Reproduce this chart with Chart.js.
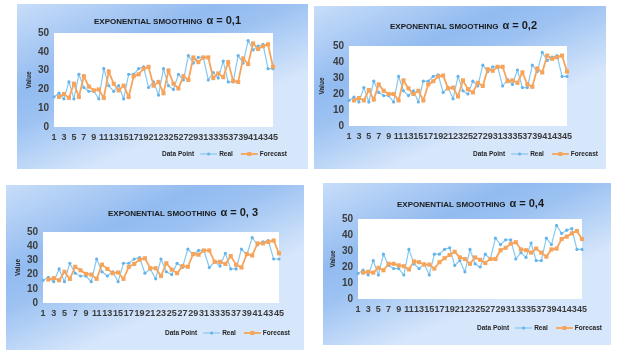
<!DOCTYPE html>
<html>
<head>
<meta charset="utf-8">
<script src="https://cdn.jsdelivr.net/npm/chart.js@4"></script>
<style>
  body { margin: 0; background: #fff; }
  #wrap { position: relative; width: 622px; height: 360px; overflow: hidden; }
  canvas { position: absolute; }
</style>
</head>
<body>
<div id="wrap">
  <canvas id="c1" width="291" height="165" style="left:17px;top:4px"></canvas>
  <canvas id="c2" width="292" height="163" style="left:314px;top:6px"></canvas>
  <canvas id="c3" width="298" height="165" style="left:6px;top:185px"></canvas>
  <canvas id="c4" width="288" height="162" style="left:323px;top:183px"></canvas>
</div>
<script>
var dataPoints = ['1','2','3','4','5','6','7','8','9','10','11','12','13','14','15','16','17','18','19','20',
  '21','22','23','24','25','26','27','28','29','30','31','32','33','34','35','36','37','38','39','40',
  '41','42','43','44','45'];

var realValues = [16, 18, 15, 24, 15, 28, 21, 19, 19, 15, 31, 22, 19, 22, 15, 28, 28, 31, 32, 21,
  24, 17, 31, 22, 20, 28, 25, 38, 34, 37, 37, 25, 29, 26, 35, 24, 24, 38, 34, 46,
  41, 43, 44, 31, 31];

var forecast01 = [null, 16, 17.5, 15.5, 23, 16, 27, 21.5, 19.5, 20, 15.5, 29.5, 23, 19.5, 22, 16, 27, 28, 31, 32,
  22, 24, 18, 30, 23, 20.5, 27, 25, 37, 34.5, 37, 37, 26, 28.5, 26.5, 34.5, 24.5, 24, 36.5, 33.5,
  44.5, 41.5, 43, 44, 32];

var forecast02 = [null, 16, 17.5, 16, 22.5, 16.5, 26, 22, 20, 20, 16, 28.5, 23.5, 20, 22, 16, 26, 28, 31, 31.5,
  23.5, 24, 18.5, 28.5, 23, 21, 27, 25, 35.5, 34.5, 37, 37, 28, 28.5, 27, 33.5, 26, 24.5, 36, 33.5,
  44, 42, 43, 44, 34];

var forecast03 = [null, 16.5, 17.5, 16, 22, 17, 25.5, 23, 20.5, 20, 17, 27, 24, 21, 21.5, 17, 25.5, 27.5, 30.5, 31.5,
  24.5, 24.5, 19, 28, 23.5, 21, 26, 25.5, 34.5, 34, 37, 37, 29, 29, 27.5, 33, 27, 25, 34.5, 33.5,
  42, 42, 43, 44, 35];

var forecast04 = [null, 16.5, 17, 16.5, 19.5, 18, 22, 22, 21, 20.5, 18.5, 23.5, 23, 21.5, 21.5, 19, 23, 25.5, 27.5, 29.5,
  26, 25, 22, 26, 24.5, 22.5, 25, 25, 30.5, 32, 34.5, 35.5, 31, 30.5, 29, 31.5, 29, 26.5, 31, 31.5,
  37.5, 39, 41, 42.5, 37.5];

var alphaLabels = ['\u03b1 = 0,1', '\u03b1 = 0,2', '\u03b1 = 0, 3', '\u03b1 = 0,4'];

var REAL_COLOR = 'rgb(135,200,240)';
var REAL_POINT = 'rgb(100,180,235)';
var FC_COLOR = 'rgb(246,164,92)';
var FONT = "'Liberation Sans', Arial, sans-serif";

Chart.defaults.font.family = FONT;
Chart.defaults.animation = false;

var decor = {
  id: 'decor',
  beforeDraw: function (chart) {
    var ctx = chart.ctx, w = chart.width, h = chart.height, a = chart.chartArea;
    var g = ctx.createLinearGradient(0, 0, w * 0.25, h);
    g.addColorStop(0, '#c8ddf9');
    g.addColorStop(0.45, '#92bbf0');
    g.addColorStop(0.62, '#9cc2f2');
    g.addColorStop(1, '#d6e6fb');
    ctx.save();
    ctx.fillStyle = g;
    ctx.fillRect(0, 0, w, h);
    ctx.fillStyle = '#ffffff';
    ctx.fillRect(a.left, a.top, a.right - a.left, a.bottom - a.top);
    ctx.restore();
  },
  afterDraw: function (chart, args, o) {
    var ctx = chart.ctx;
    ctx.save();
    ctx.textBaseline = 'middle';
    ctx.textAlign = 'left';
    ctx.fillStyle = '#1a1a1a';
    // title
    ctx.font = 'bold 8px ' + FONT;
    var t1 = 'EXPONENTIAL SMOOTHING';
    ctx.fillText(t1, o.titleX, o.titleY + 1);
    var tx = o.titleX + ctx.measureText(t1).width + 4;
    ctx.font = 'bold 11px ' + FONT;
    ctx.fillText(o.alpha, tx, o.titleY);
    // legend
    var x = o.legendX, y = o.legendY;
    ctx.font = 'bold 6.5px ' + FONT;
    ctx.fillStyle = '#262626';
    ctx.fillText('Data Point', x, y);
    x += ctx.measureText('Data Point').width + 6;
    ctx.strokeStyle = REAL_COLOR; ctx.lineWidth = 1.2;
    ctx.beginPath(); ctx.moveTo(x, y); ctx.lineTo(x + 17, y); ctx.stroke();
    ctx.fillStyle = REAL_POINT;
    ctx.beginPath(); ctx.arc(x + 8.5, y, 1.6, 0, Math.PI * 2); ctx.fill();
    x += 19;
    ctx.fillStyle = '#262626';
    ctx.fillText('Real', x, y);
    x += ctx.measureText('Real').width + 8;
    ctx.strokeStyle = FC_COLOR; ctx.lineWidth = 1.8;
    ctx.beginPath(); ctx.moveTo(x, y); ctx.lineTo(x + 17, y); ctx.stroke();
    ctx.fillStyle = FC_COLOR;
    ctx.fillRect(x + 6.5, y - 2, 4, 4);
    x += 19;
    ctx.fillStyle = '#262626';
    ctx.fillText('Forecast', x, y);
    ctx.restore();
  }
};

function makePanel(id, forecast, alpha, lay) {
  new Chart(document.getElementById(id), {
    type: 'line',
    data: {
      labels: dataPoints,
      datasets: [{
        label: 'Real',
        data: realValues,
        borderColor: REAL_COLOR,
        backgroundColor: REAL_POINT,
        borderWidth: 1.2,
        pointRadius: 1.6,
        pointBorderWidth: 0,
        pointBackgroundColor: REAL_POINT,
        tension: 0,
        order: 1
      }, {
        label: 'Forecast',
        data: forecast,
        borderColor: FC_COLOR,
        backgroundColor: FC_COLOR,
        borderWidth: 1.8,
        pointStyle: 'rect',
        pointRadius: 2.9,
        pointBorderWidth: 0,
        pointBackgroundColor: FC_COLOR,
        tension: 0,
        order: 0
      }]
    },
    options: {
      responsive: false,
      devicePixelRatio: 1,
      layout: { padding: { left: lay.padL, right: lay.padR, top: lay.padT, bottom: lay.padB } },
      plugins: {
        legend: { display: false },
        title: { display: false },
        tooltip: { enabled: false },
        decor: {
          alpha: alpha,
          titleX: lay.titleX, titleY: lay.titleY,
          legendX: lay.legendX, legendY: lay.legendY
        }
      },
      scales: {
        x: {
          offset: false,
          grid: { display: false, drawTicks: false },
          border: { display: false },
          ticks: {
            autoSkip: false, maxRotation: 0, minRotation: 0, padding: 5,
            color: '#3c3c3c', font: { size: 9, weight: 'bold' },
            callback: function (v, i) { return i % 2 === 0 ? dataPoints[i] : ''; }
          },
          afterFit: function (s) { s.height = 16; }
        },
        y: {
          min: 0, max: 50,
          grid: { display: false, drawTicks: false },
          border: { display: false },
          ticks: { stepSize: 10, autoSkip: false, padding: 5, color: '#3c3c3c', font: { size: 10, weight: 'bold' } },
          title: { display: true, text: 'Value', color: '#262626', padding: 0, font: { size: 6.5, weight: 'bold' } },
          afterFit: function (s) { s.width = lay.yW; }
        }
      }
    },
    plugins: [decor]
  });
}

makePanel('c1', forecast01, alphaLabels[0],
  { padL: 8, yW: 29, padR: 35, padT: 29, padB: 26, titleX: 77, titleY: 17, legendX: 145, legendY: 150 });
makePanel('c2', forecast02, alphaLabels[1],
  { padL: 4, yW: 31, padR: 39, padT: 40, padB: 27, titleX: 76, titleY: 20, legendX: 159, legendY: 148 });
makePanel('c3', forecast03, alphaLabels[2],
  { padL: 8, yW: 29, padR: 25, padT: 47, padB: 31, titleX: 102, titleY: 28, legendX: 159, legendY: 148 });
makePanel('c4', forecast04, alphaLabels[3],
  { padL: 6, yW: 29, padR: 29, padT: 36, padB: 30, titleX: 74, titleY: 21, legendX: 154, legendY: 145 });
</script>
</body>
</html>
